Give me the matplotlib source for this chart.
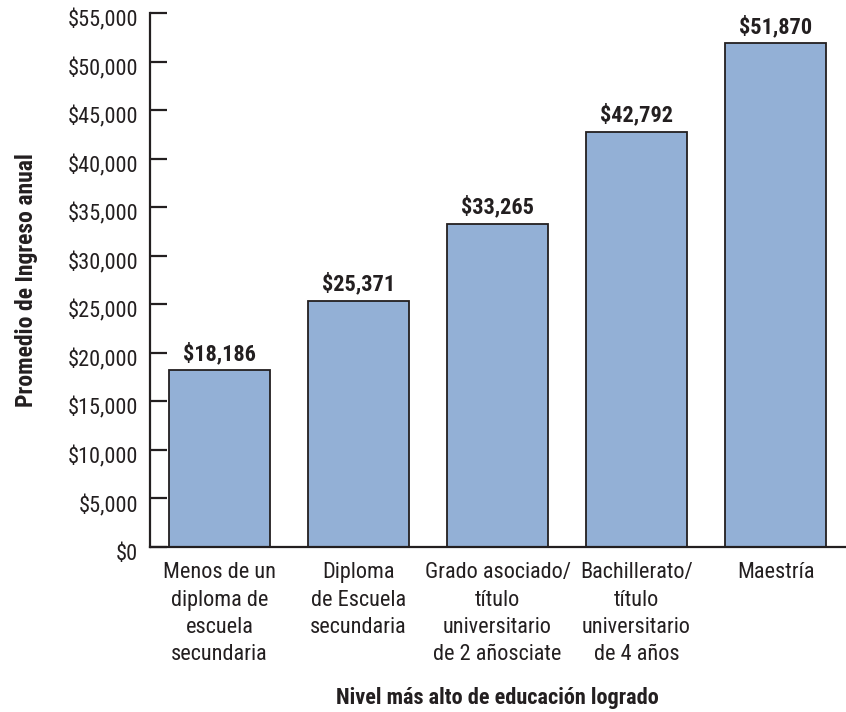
import matplotlib
matplotlib.use("Agg")
import matplotlib.pyplot as plt
from matplotlib.ticker import FuncFormatter
from matplotlib.transforms import ScaledTranslation

plt.rcParams['font.family'] = ['Roboto Condensed', 'DejaVu Sans']

categories = ["Menos de un\ndiploma de\nescuela\nsecundaria",
              "Diploma\nde Escuela\nsecundaria",
              "Grado asociado/\ntítulo\nuniversitario\nde 2 añosciate",
              "Bachillerato/\ntítulo\nuniversitario\nde 4 años",
              "Maestría"]
values = [18186, 25371, 33265, 42792, 51870]
yticks = list(range(0, 55001, 5000))

text_color = "#231f20"
bar_color = "#93b0d6"

fig = plt.figure(figsize=(8.46, 7.12), dpi=100)
ax = fig.add_axes([150/846, 1-547/712, (845-150)/846, (547-13)/712])

x = list(range(len(values)))
ax.bar(x, values, width=0.725, color=bar_color, edgecolor=text_color, linewidth=1.3, zorder=2)

for xi, v in zip(x, values):
    ax.annotate(f"${v:,}", (xi, v), xytext=(0, 4), textcoords="offset points",
                ha="center", va="bottom", fontsize=16, fontweight="bold", color=text_color)

ax.set_xlim(-0.5, 4.5)
ax.set_ylim(0, 55000)
ax.set_yticks(yticks)
ax.yaxis.set_major_formatter(FuncFormatter(lambda v, p: f"${int(v):,}"))
ax.set_xticks(x)
ax.set_xticklabels(categories, linespacing=1.4)

ax.spines['top'].set_visible(False)
ax.spines['right'].set_visible(False)
for s in ['left', 'bottom']:
    ax.spines[s].set_linewidth(1.6)
    ax.spines[s].set_color(text_color)

ax.tick_params(axis='y', direction='in', length=12, width=1.6, color=text_color,
               labelsize=16, labelcolor=text_color, pad=8.5)
ax.tick_params(axis='x', length=0, labelsize=16, labelcolor=text_color, pad=11)

shift = ScaledTranslation(0, -5/100, fig.dpi_scale_trans)
for lab in ax.get_yticklabels():
    lab.set_transform(lab.get_transform() + shift)

ax.set_ylabel("Promedio de Ingreso anual", fontsize=17, fontweight="bold", color=text_color, labelpad=21)
ax.set_xlabel("Nivel más alto de educación logrado", fontsize=16, fontweight="bold", color=text_color, labelpad=15.5)

fig.savefig("out.png", dpi=100)
